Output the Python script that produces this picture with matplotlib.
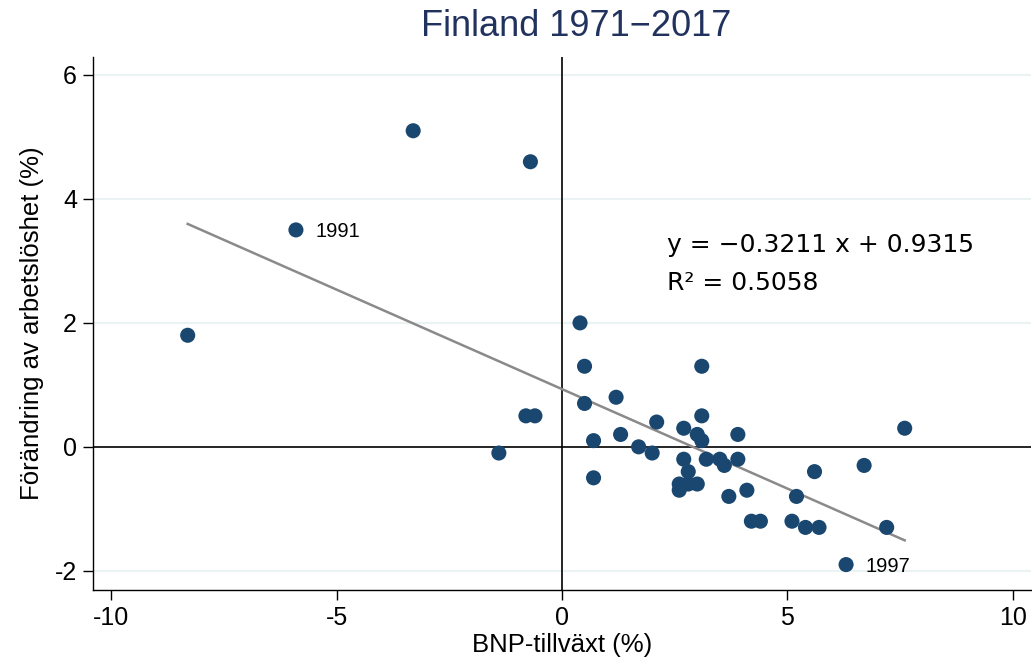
import matplotlib
matplotlib.use("Agg")
import matplotlib.pyplot as plt
import numpy as np

# Data: BNP-tillväxt (%) vs Förändring av arbetslöshet (%)
gdp_growth = [-3.3, -0.7, -5.9, -8.3, 0.4, 0.5, 3.1, 0.5, -0.8, -0.6,
              1.2, 3.1, 2.1, 2.7, 3.0, 3.1, 1.3, 0.7, 3.9, -1.4,
              1.7, 2.0, 0.7, 2.7, 3.2, 3.5, 3.6, 3.9, 2.8, 2.6,
              3.0, 2.6, 3.7, 4.1, 7.6, 6.7, 5.6, 5.2, 4.2, 4.4,
              5.1, 5.4, 5.7, 7.2, 6.3, 2.8]
unemp_change = [5.1, 4.6, 3.5, 1.8, 2.0, 1.3, 1.3, 0.7, 0.5, 0.5,
                0.8, 0.5, 0.4, 0.3, 0.2, 0.1, 0.2, 0.1, 0.2, -0.1,
                0.0, -0.1, -0.5, -0.2, -0.2, -0.2, -0.3, -0.2, -0.4, -0.6,
                -0.6, -0.7, -0.8, -0.7, 0.3, -0.3, -0.4, -0.8, -1.2, -1.2,
                -1.2, -1.3, -1.3, -1.3, -1.9, -0.6]
labeled_years = ["1991", "1997"]
labeled_points = [(-5.9, 3.5), (6.3, -1.9)]
slope = -0.3211
intercept = 0.9315
r_squared = 0.5058

x_ticks = [-10, -5, 0, 5, 10]
y_ticks = [-2, 0, 2, 4, 6]

navy = "#1a476f"
fig = plt.figure(figsize=(10.32, 6.6), dpi=100)
ax = fig.add_axes([93/1032, 1 - 590/660, 1 - 93/1032 - 0.001, (590 - 57)/660])

ax.set_xlim(-10.4, 10.4)
ax.set_ylim(-2.31, 6.29)

for yt in y_ticks:
    if yt != 0:
        ax.axhline(yt, color="#eaf2f3", lw=1.5, zorder=0)
ax.axhline(0, color="black", lw=1.2, zorder=1)
ax.axvline(0, color="black", lw=1.2, zorder=1)

xs = np.array([min(gdp_growth), max(gdp_growth)])
ax.plot(xs, slope * xs + intercept, color="#8a8a8a", lw=1.8, zorder=2)

ax.scatter(gdp_growth, unemp_change, s=118, color=navy, edgecolors="none", zorder=3)

for lab, (px, py) in zip(labeled_years, labeled_points):
    ax.annotate(lab, (px, py), xytext=(14, -5.2), textcoords="offset points",
                ha="left", va="baseline", fontsize=14.5, family="Liberation Sans")

ax.text(2.32, 3.145, f"y = \u2212{abs(slope):.4f} x + {intercept:.4f}", ha="left", va="baseline",
        fontsize=18, family="DejaVu Sans")
ax.text(2.32, 2.53, f"R\u00b2 = {r_squared:.4f}", ha="left", va="baseline",
        fontsize=18, family="DejaVu Sans")

ax.set_xticks(x_ticks)
ax.set_yticks(y_ticks)
ax.set_xticklabels([str(t) for t in x_ticks], family="Liberation Sans", fontsize=18)
ax.set_yticklabels([str(t) for t in y_ticks], family="Liberation Sans", fontsize=18)
ax.tick_params(direction="out", length=7.5, width=1.0, colors="black", pad=4)
for s in ["top", "right"]:
    ax.spines[s].set_visible(False)
for s in ["left", "bottom"]:
    ax.spines[s].set_linewidth(1.0)

ax.set_xlabel("BNP-tillväxt (%)", family="Liberation Sans", fontsize=18.5, labelpad=2)
ax.set_ylabel("Förändring av arbetslöshet (%)", family="Liberation Sans", fontsize=18.5, labelpad=8)
fig.text(576/1032, 1 - 27/660, "Finland 1971\u22122017", ha="center", va="center",
         fontsize=26, color="#22325f", family="Liberation Sans")

fig.savefig("out.png", dpi=100)
